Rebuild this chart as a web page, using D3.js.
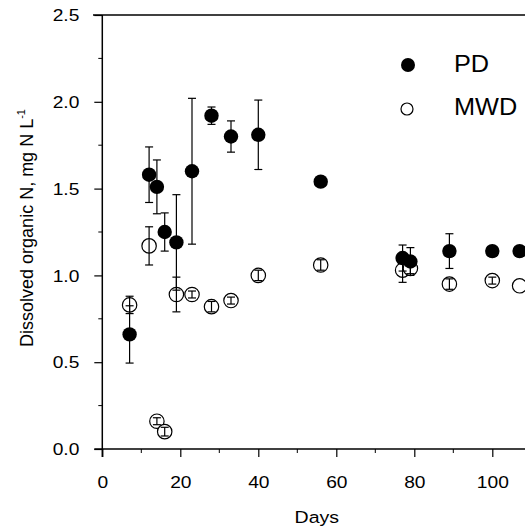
<!DOCTYPE html>
<html><head><meta charset="utf-8">
<script src="https://cdn.jsdelivr.net/npm/d3@7"></script>
<style>body{margin:0;background:#fff;} svg{display:block;font-family:"Liberation Sans",Arial,sans-serif;}</style>
</head><body>
<svg id="c" width="525" height="529"></svg>
<script>
const pdDays = [7, 12, 14, 16, 19, 23, 28, 33, 40, 56, 77, 79, 89, 100, 107];
const pdVals = [0.66, 1.58, 1.51, 1.25, 1.19, 1.60, 1.92, 1.80, 1.81, 1.54, 1.10, 1.08, 1.14, 1.14, 1.14];
const pdErr  = [0.165, 0.16, 0.155, 0.11, 0.275, 0.42, 0.05, 0.09, 0.2, 0, 0.075, 0.08, 0.1, 0, 0];
const mwdDays = [7, 12, 14, 16, 19, 23, 28, 33, 40, 56, 77, 79, 89, 100, 107];
const mwdVals = [0.83, 1.17, 0.16, 0.10, 0.89, 0.89, 0.82, 0.855, 1.00, 1.06, 1.03, 1.04, 0.95, 0.97, 0.94];
const mwdErr  = [0.05, 0.11, 0.02, 0.025, 0.1, 0.02, 0.03, 0.02, 0.03, 0.03, 0.07, 0.03, 0.03, 0.02, 0];
const xTicks = [0, 20, 40, 60, 80, 100];
const yTicks = [0.0, 0.5, 1.0, 1.5, 2.0, 2.5];
const legendLabels = ["PD", "MWD"];

const SX = 1.2; // horizontal stretch of the lettering
const svg = d3.select("#c");
const x = d3.scaleLinear().domain([0, 110]).range([102.3, 102.3 + 110 * 3.9]);
const y = d3.scaleLinear().domain([0, 2.5]).range([449, 15]);

// frame top line
svg.append("line").attr("x1", 93).attr("x2", 525).attr("y1", y(2.5)).attr("y2", y(2.5))
  .attr("stroke", "#000").attr("stroke-width", 1.5);

// y axis
const yAx = svg.append("g").attr("transform", `translate(${x(0)},0)`)
  .call(d3.axisLeft(y).tickValues(yTicks).tickFormat(d3.format(".1f")).tickSize(8).tickPadding(6));
yAx.append("g").selectAll("line").data(d3.range(0.25, 2.5, 0.5)).join("line")
  .attr("x1", -4).attr("x2", 0).attr("y1", d => y(d)).attr("y2", d => y(d)).attr("stroke", "#000");
// x axis
const xAx = svg.append("g").attr("transform", `translate(0,${y(0)})`)
  .call(d3.axisBottom(x).tickValues(xTicks).tickFormat(d3.format("d")).tickSize(8).tickPadding(12));
xAx.append("g").selectAll("line").data(d3.range(10, 111, 20)).join("line")
  .attr("x1", d => x(d)).attr("x2", d => x(d)).attr("y1", 0).attr("y2", 4).attr("stroke", "#000");

[yAx, xAx].forEach(a => {
  a.select(".domain").attr("stroke-width", 1.5);
  a.selectAll("text").attr("font-size", 16).attr("fill", "#000")
    .attr("font-family", "Liberation Sans, Arial, sans-serif").attr("transform", `scale(${SX},1)`);
  a.selectAll(".tick line").attr("stroke-width", 1.2);
});
yAx.selectAll(".tick text").attr("x", -23 / SX).attr("dy", "0.36em");
xAx.selectAll(".tick text").attr("y", 39).attr("dy", 0);
yAx.select(".domain").attr("d", `M0,${y(2.5)}V${y(0) + 8}`);
xAx.select(".domain").attr("d", `M${x(0) - 8},0H525`);

// axis titles
svg.append("text").attr("transform", `translate(${x(55)},523) scale(${SX},1)`)
  .attr("text-anchor", "middle").attr("font-size", 16.3).text("Days");
const yl = svg.append("text").attr("transform", "translate(33,228) rotate(-90)")
  .attr("text-anchor", "middle").attr("font-size", 18);
yl.append("tspan").text("Dissolved organic N, mg N L");
yl.append("tspan").attr("dy", -8).attr("font-size", 11).text("-1");

const mwd = mwdDays.map((d, i) => ({d, v: mwdVals[i], e: mwdErr[i]}));
const pd = pdDays.map((d, i) => ({d, v: pdVals[i], e: pdErr[i]}));
const r = 7.2;

// open circles
svg.append("g").selectAll("circle").data(mwd).join("circle")
  .attr("cx", p => x(p.d)).attr("cy", p => y(p.v)).attr("r", r)
  .attr("fill", "#fff").attr("stroke", "#000").attr("stroke-width", 1.2);

// error bars
function bars(data) {
  const g = svg.append("g").attr("stroke", "#000").attr("stroke-width", 1.2);
  data.filter(p => p.e > 0).forEach(p => {
    const cx = x(p.d), t = y(p.v + p.e), b = y(p.v - p.e);
    g.append("line").attr("x1", cx).attr("x2", cx).attr("y1", t).attr("y2", b);
    g.append("line").attr("x1", cx - 4).attr("x2", cx + 4).attr("y1", t).attr("y2", t);
    g.append("line").attr("x1", cx - 4).attr("x2", cx + 4).attr("y1", b).attr("y2", b);
  });
}
bars(mwd);
bars(pd);

// filled circles
svg.append("g").selectAll("circle").data(pd).join("circle")
  .attr("cx", p => x(p.d)).attr("cy", p => y(p.v)).attr("r", r).attr("fill", "#000");

// legend
const leg = svg.append("g");
leg.append("circle").attr("cx", 408).attr("cy", 65).attr("r", 7).attr("fill", "#000");
leg.append("circle").attr("cx", 407).attr("cy", 109).attr("r", 6).attr("fill", "#fff").attr("stroke", "#000").attr("stroke-width", 1.2);
leg.append("text").attr("transform", "translate(454,72) scale(1.1,1)").attr("font-size", 23).text(legendLabels[0]);
leg.append("text").attr("transform", "translate(454,115) scale(1.1,1)").attr("font-size", 23).text(legendLabels[1]);
</script>
</body></html>
